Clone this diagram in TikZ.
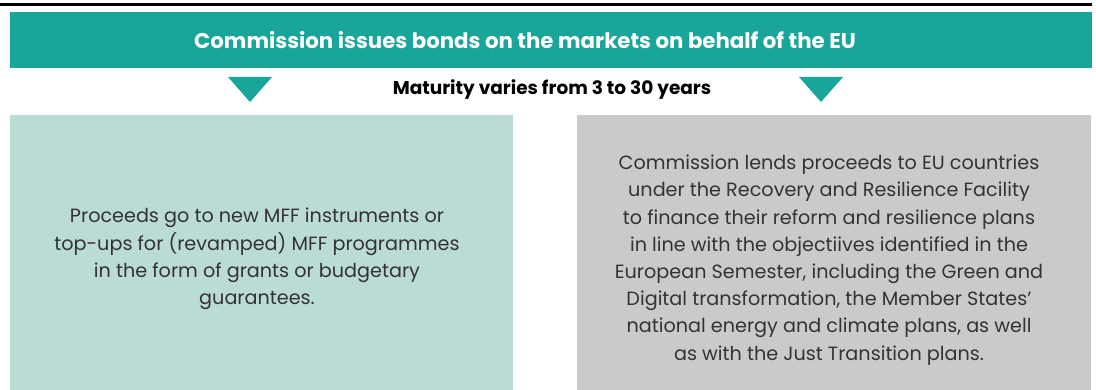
\documentclass[tikz,border=0pt]{standalone}
\usepackage{fontspec}
\setmainfont{Poppins}
\usepackage{tikz}

\definecolor{bandteal}{HTML}{19A59A}
\definecolor{leftmint}{HTML}{BBDBD5}
\definecolor{rightgrey}{HTML}{CBC9CC}
\definecolor{bodytext}{HTML}{333333}

\tikzset{
    banner/.style={fill=bandteal, text=white, font=\fontsize{21.3}{24}\selectfont\bfseries},
    pointer/.style={fill=bandteal},
    boxtext/.style={text=bodytext, align=center, font=\fontsize{19.2}{27.2}\selectfont}
}

\begin{document}
\begin{tikzpicture}[x=1pt, y=-1pt]

            \useasboundingbox (0,0) rectangle (1096,390);

            % rule on top
            \draw[line width=2.7pt] (0,4.7) -- (1092,4.7);

            % banner
            \fill[bandteal] (10,12) rectangle (1092,68);
            \node[banner] (issue) at (525,40) {Commission issues bonds on the markets on behalf of the EU};

            % pointers
            \foreach \x in {250,821}
            {
                \fill[pointer] (\x-22,77) -- (\x+22,77) -- (\x,102) -- cycle;
            }
            \node[font=\fontsize{18.5}{20}\selectfont\bfseries] (maturity) at (552,90) {Maturity varies from 3 to 30 years};

            % two boxes
            \fill[leftmint] (10,115) rectangle (513,390);
            \fill[rightgrey] (577,115) rectangle (1091,390);

            \node[boxtext] (grants) at (257,259) {Proceeds go to new MFF instruments or\\
                top-ups for (revamped) MFF programmes\\
                in the form of grants or budgetary\\
                guarantees.};
            \node[boxtext] (loans) at (829,260) {Commission lends proceeds to EU countries\\
                under the Recovery and Resilience Facility\\
                to finance their reform and resilience plans\\
                in line with the objectiives identified in the\\
                European Semester, including the Green and\\
                Digital transformation, the Member States'\\
                national energy and climate plans, as well\\
                as with the Just Transition plans.};

        \end{tikzpicture}
\end{document}
